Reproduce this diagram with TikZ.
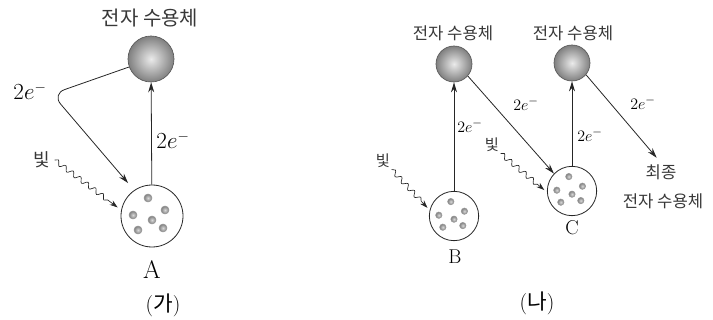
\documentclass[tikz,border=0pt]{standalone}
\usepackage{fontspec}
\newfontfamily\kr{Noto Sans CJK KR}
\usetikzlibrary{arrows.meta,decorations.pathmorphing,positioning}

\tikzset{
  acceptor/.style={circle, draw=black!65, line width=0.5pt, inner sep=0pt, inner color=black!8, outer color=black!50},
  reaction/.style={circle, draw=black!85, line width=0.6pt, inner sep=0pt, fill=white},
  pigment/.style={circle, inner sep=0pt, draw=black!40, inner color=black!15, outer color=black!50},
  flow/.style={-{Stealth[length=7.5pt,width=4.5pt]}, black!85, line width=0.6pt},
  light/.style={-{Stealth[length=6pt,width=4pt]}, black!85, line width=0.5pt, decorate,
    decoration={snake, amplitude=1.8pt, segment length=7pt, post length=6pt}},
  krtext/.style={font=\kr\fontsize{#1}{#1}\selectfont, text=black!78, inner sep=1pt},
  elec/.style={font=\fontsize{#1}{#1}\selectfont, inner sep=1pt},
}

% six pigment dots around a reaction centre
\newcommand{\pigments}[2]{%
  \foreach \dx/\dy in {-4/-18,-19/-1,13/-6,0/4,-14/14,11/12}
    \node[pigment, minimum size=#2*6pt] at ([shift={(#2*\dx,#2*\dy)}]#1.center) {};}

\begin{document}
\begin{tikzpicture}[x=0.75pt,y=-0.75pt]
  \useasboundingbox (0,0) rectangle (713,320);

  % (ga)
  \node[acceptor, minimum size=34.5pt] (accA) at (151,59) {};
  \node[krtext=15] (titleA) at (150,18) {전자 수용체};
  \node[reaction, minimum size=46.5pt] (A) at (152,216) {};
  \pigments{A}{1}
  \node[elec=19] (labA) at (152,270) {A};
  \node[elec=16] (ga) at (163,305) {({\kr 가})};
  \node[krtext=13.5] (lightA) at (42,160) {빛};
  \coordinate (bend) at (52,94);

  \draw[flow] (A) -- (accA);
  \draw[flow, rounded corners=10pt] (accA.200) -- (bend) -- ([shift={(126:7pt)}]A.126);
  \draw[light] (lightA.east) ++(2pt,0) -- ([shift={(166:3pt)}]A.166);
  \node[elec=16] at (173,140) {$2e^{-}$};
  \node[elec=16] at (30,91) {$2e^{-}$};

  % (na)
  \node[acceptor, minimum size=27pt] (acc1) at (454,64) {};
  \node[acceptor, minimum size=27pt] (acc2) at (572,63) {};
  \node[krtext=12.5] (title1) at (453,33) {전자 수용체};
  \node[krtext=12.5] (title2) at (573,33) {전자 수용체};
  \node[reaction, minimum size=37pt] (B) at (454,216) {};
  \node[reaction, minimum size=37pt] (C) at (572,191) {};
  \pigments{B}{0.8}
  \pigments{C}{0.8}
  \node[elec=15] (labB) at (455,257) {B};
  \node[elec=15] (labC) at (572,228) {C};
  \node[krtext=12.5] (final1) at (661,172) {최종};
  \node[krtext=12.5] (final2) at (663,201) {전자 수용체};
  \node[elec=16] (na) at (537,303) {({\kr 나})};
  \node[krtext=11.5] (lightB) at (383,161) {빛};
  \node[krtext=11.5] (lightC) at (492,145) {빛};

  \draw[flow] (B) -- (acc1);
  \draw[flow] (acc1.-41) -- (C.136);
  \draw[flow] (C) -- (acc2);
  \draw[flow, shorten >=5pt] (acc2.-40) -- (final1.north);
  \draw[light] (lightB.south east) -- ([shift={(163:2pt)}]B.163);
  \draw[light] (lightC.south east) -- ([shift={(178:2pt)}]C.178);
  \node[elec=13] at (470,126) {$2e^{-}$};
  \node[elec=13] at (526,104) {$2e^{-}$};
  \node[elec=13] at (590,135) {$2e^{-}$};
  \node[elec=13] at (643,103) {$2e^{-}$};
\end{tikzpicture}
\end{document}
